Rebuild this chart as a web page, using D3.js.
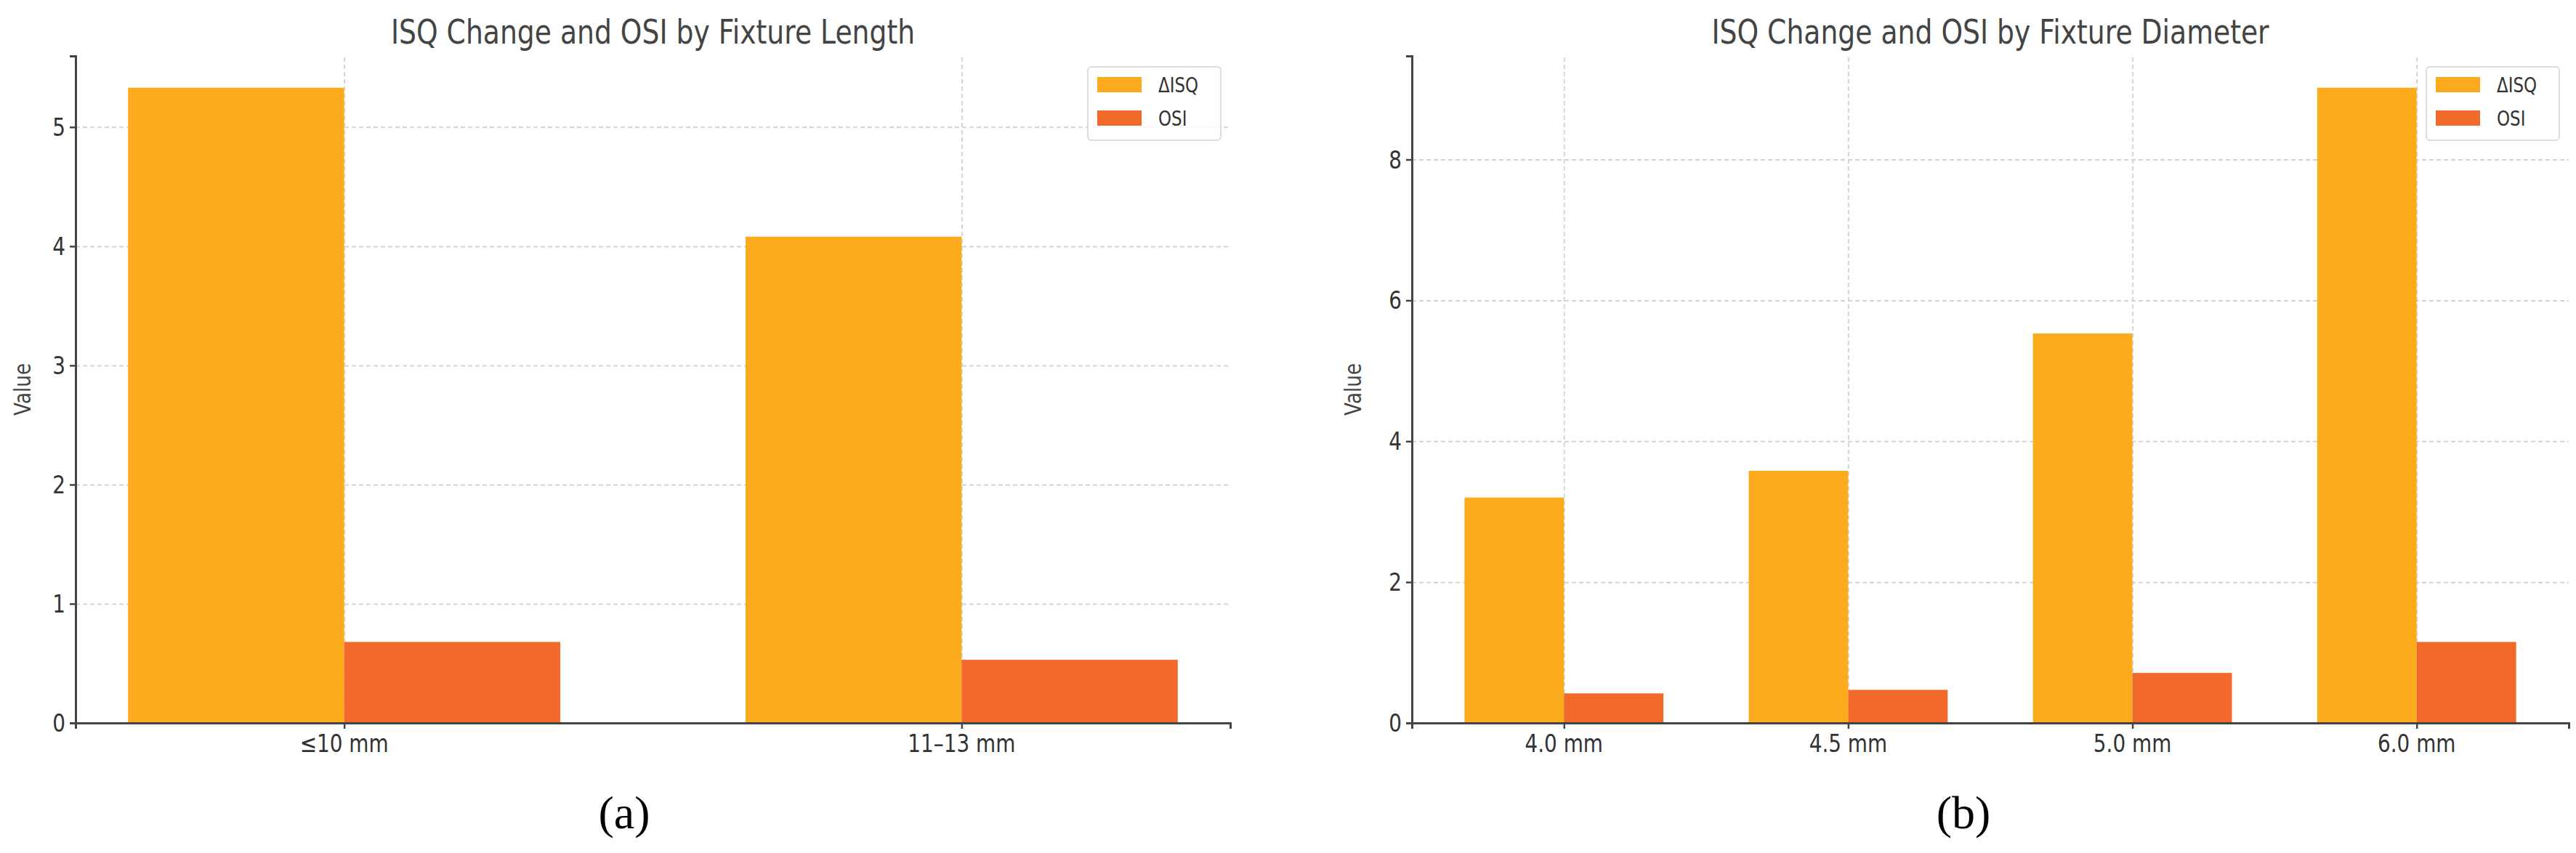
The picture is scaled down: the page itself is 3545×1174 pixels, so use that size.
<!DOCTYPE html>
<html>
<head>
<meta charset="utf-8">
<script src="https://cdn.jsdelivr.net/npm/d3@7"></script>
<style>
  body { margin: 0; background: #fff; }
  svg { display: block; }
</style>
</head>
<body>
<div id="chart"></div>
<script>
// data
var lengthCats = ["≤10 mm", "11–13 mm"];
var lengthIsq = [5.33, 4.08];
var lengthOsi = [0.68, 0.53];
var lengthTicks = [0, 1, 2, 3, 4, 5];

var diamCats = ["4.0 mm", "4.5 mm", "5.0 mm", "6.0 mm"];
var diamIsq = [3.2, 3.58, 5.53, 9.02];
var diamOsi = [0.42, 0.47, 0.71, 1.15];
var diamTicks = [0, 2, 4, 6, 8];

var seriesNames = ["ΔISQ", "OSI"];
var seriesColors = ["#fbab1c", "#f26a2b"];

var W = 3545, H = 1174;
var plotTop = 77, plotBottom = 995;
var font = "DejaVu Sans, sans-serif";
var squeeze = 0.82; // the source text looks horizontally condensed

var svg = d3.select("#chart").append("svg")
    .attr("width", W)
    .attr("height", H);

// text helper with condensed glyphs
function label(g, x, y, txt, size, anchor, color, rot) {
    return g.append("text")
        .attr("transform", "translate(" + x + "," + y + ")" + (rot ? " rotate(" + rot + ")" : "") + " scale(" + squeeze + ",1)")
        .attr("text-anchor", anchor)
        .style("font-family", font)
        .style("font-size", size + "px")
        .style("fill", color)
        .text(txt);
}

function panel(cats, isq, osi, ticks, left, right, title, valueX, tag, tagX) {
    var g = svg.append("g");
    var n = cats.length;
    var bw = 0.35;
    var pad = (n - 1 + 2 * bw) * 0.05;

    var x = d3.scaleLinear()
        .domain([-bw - pad, n - 1 + bw + pad])
        .range([left, right]);
    var y = d3.scaleLinear()
        .domain([0, d3.max(isq.concat(osi)) * 1.05])
        .range([plotBottom, plotTop]);

    // horizontal gridlines
    g.append("g")
        .attr("transform", "translate(" + left + ",0)")
        .call(d3.axisLeft(y).tickValues(ticks).tickSize(-(right - left)).tickFormat(""))
        .call(s => s.select(".domain").remove())
        .selectAll("line")
        .attr("stroke", "#d4d4d4")
        .attr("stroke-width", 2)
        .attr("stroke-dasharray", "6,4");

    // vertical gridlines at category centres
    g.append("g")
        .attr("transform", "translate(0," + plotBottom + ")")
        .call(d3.axisBottom(x).tickValues(d3.range(n)).tickSize(-(plotBottom - plotTop)).tickFormat(""))
        .call(s => s.select(".domain").remove())
        .selectAll("line")
        .attr("stroke", "#d4d4d4")
        .attr("stroke-width", 2)
        .attr("stroke-dasharray", "6,4");

    // bars
    [isq, osi].forEach(function (vals, k) {
        g.selectAll(".bar" + k)
            .data(vals)
            .enter()
            .append("rect")
            .attr("class", "bar" + k)
            .attr("x", (d, i) => x(i - bw + k * bw))
            .attr("width", x(bw) - x(0))
            .attr("y", d => y(d))
            .attr("height", d => plotBottom - y(d))
            .attr("fill", seriesColors[k]);
    });

    // axes
    var ya = g.append("g")
        .attr("transform", "translate(" + left + ",0)")
        .call(d3.axisLeft(y).tickValues(ticks).tickSize(8).tickFormat(""));
    ya.select(".domain").attr("stroke", "#444").attr("stroke-width", 3);
    ya.selectAll("line").attr("stroke", "#444").attr("stroke-width", 2.5);
    ticks.forEach(function (t) {
        label(g, left - 14, y(t) + 12, String(t), 34, "end", "#333");
    });

    var xa = g.append("g")
        .attr("transform", "translate(0," + plotBottom + ")")
        .call(d3.axisBottom(x).tickValues(d3.range(n)).tickSize(8).tickFormat(""));
    xa.select(".domain").attr("stroke", "#444").attr("stroke-width", 3);
    xa.selectAll("line").attr("stroke", "#444").attr("stroke-width", 2.5);
    cats.forEach(function (c, i) {
        label(g, x(i), plotBottom + 40, c, 34, "middle", "#333");
    });

    // titles
    label(g, (left + right) / 2, 60, title, 46, "middle", "#444");
    label(g, valueX, (plotTop + plotBottom) / 2, "Value", 32, "middle", "#444", -90);

    // legend
    var lx = right - 13 - 183, ly = 92;
    g.append("rect")
        .attr("x", lx).attr("y", ly)
        .attr("width", 183).attr("height", 101)
        .attr("rx", 5)
        .attr("fill", "#fff").attr("fill-opacity", 0.85)
        .attr("stroke", "#dcdcdc").attr("stroke-width", 2);
    seriesNames.forEach(function (s, k) {
        g.append("rect")
            .attr("x", lx + 13).attr("y", ly + 14 + k * 46)
            .attr("width", 61).attr("height", 21)
            .attr("fill", seriesColors[k]);
        label(g, lx + 97, ly + 35 + k * 46, s, 28, "start", "#333");
    });

    // panel tag
    svg.append("text")
        .attr("x", tagX).attr("y", 1140)
        .attr("text-anchor", "middle")
        .style("font-family", "Liberation Serif, serif")
        .style("font-size", "64px")
        .style("fill", "#000")
        .text(tag);
}

panel(lengthCats, lengthIsq, lengthOsi, lengthTicks, 104, 1693,
    "ISQ Change and OSI by Fixture Length", 42, "(a)", 859);
panel(diamCats, diamIsq, diamOsi, diamTicks, 1943, 3535,
    "ISQ Change and OSI by Fixture Diameter", 1873, "(b)", 2702);
</script>
</body>
</html>
